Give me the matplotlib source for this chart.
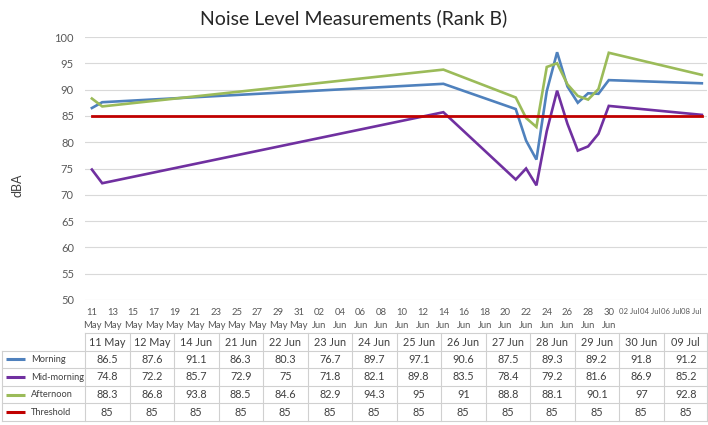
import matplotlib
matplotlib.use("Agg")
import matplotlib.pyplot as plt
import pandas as pd

# data
date_labels = ["11 May", "12 May", "14 Jun", "21 Jun", "22 Jun", "23 Jun", "24 Jun",
               "25 Jun", "26 Jun", "27 Jun", "28 Jun", "29 Jun", "30 Jun", "09 Jul"]
morning = [86.5, 87.6, 91.1, 86.3, 80.3, 76.7, 89.7, 97.1, 90.6, 87.5, 89.3, 89.2, 91.8, 91.2]
mid_morning = [74.8, 72.2, 85.7, 72.9, 75, 71.8, 82.1, 89.8, 83.5, 78.4, 79.2, 81.6, 86.9, 85.2]
afternoon = [88.3, 86.8, 93.8, 88.5, 84.6, 82.9, 94.3, 95, 91, 88.8, 88.1, 90.1, 97, 92.8]
threshold = [85] * 14

series_names = ["Morning", "Mid-morning", "Afternoon", "Threshold"]
series_vals = [morning, mid_morning, afternoon, threshold]
colors = ["#4F81BD", "#7030A0", "#9BBB59", "#C00000"]

dates = pd.to_datetime([d + " 2021" for d in date_labels], format="%d %b %Y")

plt.rcParams["font.family"] = ["Lato", "DejaVu Sans"]

W, H = 708, 425
fig = plt.figure(figsize=(W / 100, H / 100), dpi=100)

# main plot area (pixel layout)
left, right, top, bottom = 85, 707, 37, 300
ax = fig.add_axes([left / W, 1 - bottom / H, (right - left) / W, (bottom - top) / H])

for name, vals, col in zip(series_names, series_vals, colors):
    lw = 2.0 if name == "Threshold" else 1.9
    ax.plot(dates, vals, color=col, lw=lw, solid_joinstyle="miter", zorder=3 if name != "Threshold" else 4)

ax.set_xlim(dates[0] - pd.Timedelta(hours=16), dates[-1] + pd.Timedelta(hours=12))
ax.set_ylim(50, 100)
ax.set_yticks(range(50, 101, 5))
ax.yaxis.grid(True, color="#D9D9D9", lw=0.8)
ax.set_axisbelow(True)
for s in ax.spines.values():
    s.set_visible(False)
ax.tick_params(axis="both", length=0, colors="#595959")
ax.tick_params(axis="y", pad=8, labelsize=8)

ticks = pd.date_range(dates[0], dates[-1], freq="2D")
ax.set_xticks(ticks)
ax.set_xticklabels([t.strftime("%d %b") if t.month == 7 else t.strftime("%d\n%b") for t in ticks],
                   fontsize=6.8, linespacing=1.5)
for t, lab in zip(ticks, ax.get_xticklabels()):
    if t.month == 7:
        lab.set_fontsize(5.6)
ax.tick_params(axis="x", pad=6)
fig.text(18 / W, 1 - 185 / H, "dBA", rotation=90, ha="center", va="center",
         fontsize=9, color="#404040")

fig.text(0.5, 1 - 18 / H, "Noise Level Measurements (Rank B)", ha="center", va="center",
         fontsize=14, color="#262626")

# data table under the chart
tab = fig.add_axes([0, 0, 1, 1], facecolor="none")
tab.set_xlim(0, W)
tab.set_ylim(H, 0)
tab.axis("off")

tbl_left, leg_w, col_w = 2, 83, 44.5
row_top, row_h = 333, 17.6
grid_c = "#D0D0D0"
ncol = len(date_labels)
x0 = tbl_left + leg_w
x_end = x0 + col_w * ncol - 1

# header row
for i, lab in enumerate(date_labels):
    cx = x0 + col_w * (i + 0.5)
    tab.text(cx, row_top + row_h / 2 + 1, lab, ha="center", va="center", fontsize=7.8, color="#404040")
tab.plot([x0, x_end], [row_top, row_top], color=grid_c, lw=0.8)
for i in range(ncol + 1):
    xx = min(x0 + col_w * i, x_end)
    tab.plot([xx, xx], [row_top, row_top + row_h * 5], color=grid_c, lw=0.8)

# body rows
for r, (name, vals, col) in enumerate(zip(series_names, series_vals, colors)):
    yc = row_top + row_h * (r + 1.5)
    tab.plot([tbl_left + 4, tbl_left + 23], [yc, yc], color=col, lw=2.2, solid_capstyle="butt")
    tab.text(tbl_left + 29, yc, name, ha="left", va="center", fontsize=6.7, color="#404040")
    for i, v in enumerate(vals):
        cx = x0 + col_w * (i + 0.5)
        tab.text(cx, yc, f"{v:g}", ha="center", va="center", fontsize=7.8, color="#404040")
for r in range(1, 6):
    yy = row_top + row_h * r
    tab.plot([tbl_left, x_end], [yy, yy], color=grid_c, lw=0.8)
tab.plot([tbl_left, tbl_left], [row_top + row_h, row_top + row_h * 5], color=grid_c, lw=0.8)

fig.savefig("out.png", dpi=100)
